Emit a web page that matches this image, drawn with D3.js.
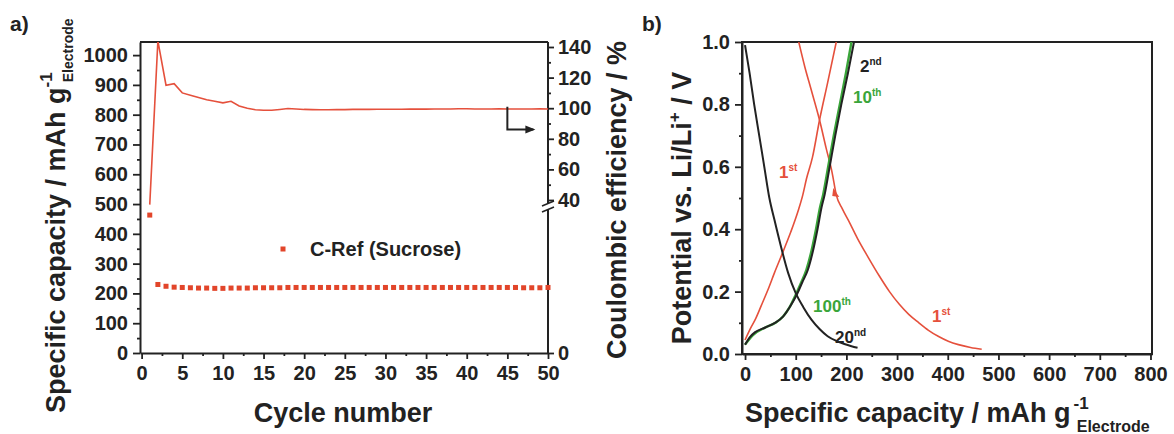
<!DOCTYPE html>
<html><head><meta charset="utf-8">
<script src="https://cdn.jsdelivr.net/npm/d3@7"></script>
<style>
body{margin:0;background:#fff;}
svg{display:block;}
text{font-family:"Liberation Sans",Arial,sans-serif;font-weight:bold;fill:#222;}
</style>
</head><body>
<svg id="c" width="1174" height="434"></svg>
<script>
// ---------- Panel a data ----------
const cycles = [1,2,3,4,5,6,7,8,9,10,11,12,13,14,15,16,17,18,19,20,21,22,23,24,25,26,27,28,29,30,31,32,33,34,35,36,37,38,39,40,41,42,43,44,45,46,47,48,49,50];
const capacity = [463,230,224,221,220,219,218,218,217,217,218,218,218,219,219,219,219,220,220,220,220,220,220,220,220,220,220,220,220,220,220,220,220,220,220,220,220,220,220,220,220,220,220,220,220,220,219,219,219,220];
const coulombicEff = [37,144,115,116,110,108.5,107,105.5,104.5,103.5,104.5,101.5,100,99,98.7,98.7,99.2,99.8,99.5,99.2,99.1,99.0,99.0,99.1,99.1,99.2,99.2,99.2,99.3,99.3,99.3,99.3,99.4,99.4,99.4,99.5,99.5,99.5,99.6,99.6,99.5,99.5,99.5,99.6,99.5,99.5,99.5,99.5,99.6,99.5];
const cycleTicks = [0,5,10,15,20,25,30,35,40,45,50];
const capTicks = [0,100,200,300,400,500,600,700,800,900,1000];
const ceTicks = [40,60,80,100,120,140];
const legendLabel = "C-Ref (Sucrose)";

// ---------- Panel b data: [capacity, potential] ----------
const discharge2 = [[0,0.99],[9,0.9],[18,0.8],[28,0.7],[38,0.6],[48,0.5],[58,0.43],[70,0.35],[85,0.26],[100,0.195],[115,0.15],[131,0.11],[147,0.08],[163,0.057],[180,0.042],[196,0.032],[210,0.025],[222,0.02]];
const charge2 = [[0,0.03],[10,0.055],[20,0.07],[40,0.085],[59,0.1],[75,0.12],[88,0.15],[102,0.19],[113,0.23],[124,0.27],[134,0.33],[143,0.4],[151,0.47],[157,0.51],[167,0.6],[178,0.7],[190,0.8],[203,0.9],[215,1.0]];
const charge10 = [[0,0.03],[15,0.06],[40,0.085],[60,0.1],[75,0.12],[88,0.15],[100,0.19],[111,0.23],[121,0.27],[131,0.33],[140,0.4],[148,0.47],[154,0.51],[164,0.6],[175,0.7],[187,0.8],[199,0.9],[210,1.0]];
const discharge1 = [[106,1.0],[118,0.92],[130,0.85],[147,0.75],[160,0.66],[172,0.58],[180,0.51],[192,0.465],[205,0.425],[222,0.37],[243,0.31],[265,0.25],[285,0.2],[304,0.16],[323,0.127],[343,0.1],[362,0.076],[382,0.056],[401,0.041],[421,0.03],[445,0.021],[467,0.015]];
const charge1 = [[0,0.045],[10,0.08],[20,0.11],[32,0.155],[45,0.205],[58,0.26],[73,0.32],[90,0.39],[105,0.46],[114,0.51],[121,0.56],[133,0.63],[147,0.75],[163,0.87],[180,1.0]];
const potTicks = [0,0.2,0.4,0.6,0.8,1.0];
const capBTicks = [0,100,200,300,400,500,600,700,800];

const RED = "#e5503c", MARK = "#e2452a", GREEN = "#3aa53a", BLACK = "#222";

const svg = d3.select("#c");
svg.append("rect").attr("width",1174).attr("height",434).attr("fill","#fff");

function styleAxis(g){
  g.selectAll(".domain").attr("stroke",BLACK).attr("stroke-width",2);
  g.selectAll(".tick line").attr("stroke",BLACK).attr("stroke-width",1.8);
  g.selectAll(".tick text").style("font-size","20px").style("font-weight","bold").attr("fill",BLACK);
}

// ================= Panel a =================
const xA = d3.scaleLinear().domain([-0.2,50]).range([140,548]);
const yA = d3.scaleLinear().domain([0,1044]).range([353,42]);
const yCE = d3.scaleLinear().domain([40,140]).range([200,47]);
const yCElow = d3.scaleLinear().domain([0,40]).range([353,207]);

svg.append("defs").append("clipPath").attr("id","clipA")
  .append("rect").attr("x",140).attr("y",42).attr("width",408).attr("height",311);

svg.append("line").attr("x1",140).attr("x2",548).attr("y1",42).attr("y2",42).attr("stroke",BLACK).attr("stroke-width",2);

svg.append("g").attr("transform","translate(140,0)")
  .call(d3.axisLeft(yA).tickValues(d3.range(50,1044,100)).tickSize(3).tickFormat(""))
  .call(g=>g.select(".domain").remove()).call(styleAxis);
svg.append("g").attr("transform","translate(140,0)")
  .call(d3.axisLeft(yA).tickValues(capTicks).tickSize(7).tickPadding(5).tickSizeOuter(0).tickFormat(d3.format("d")))
  .call(styleAxis);
svg.append("g").attr("transform","translate(0,353)")
  .call(d3.axisBottom(xA).tickValues(d3.range(2.5,50,5)).tickSize(3).tickFormat(""))
  .call(g=>g.select(".domain").remove()).call(styleAxis);
svg.append("g").attr("transform","translate(0,353)")
  .call(d3.axisBottom(xA).tickValues(cycleTicks).tickSize(6).tickPadding(7).tickSizeOuter(0))
  .call(styleAxis);
const rA = svg.append("g").attr("transform","translate(548,0)");
rA.call(d3.axisRight(yCE).tickValues(ceTicks).tickSize(6).tickPadding(4))
  .call(g=>g.select(".domain").remove()).call(styleAxis);
rA.append("g").call(d3.axisRight(yCE).tickValues([50,70,90,110,130]).tickSize(3).tickFormat(""))
  .call(g=>g.select(".domain").remove()).call(styleAxis);
rA.append("g").call(d3.axisRight(yCElow).tickValues([0]).tickSize(6).tickPadding(4))
  .call(g=>g.select(".domain").remove()).call(styleAxis);
rA.append("line").attr("x1",0).attr("x2",0).attr("y1",42).attr("y2",204).attr("stroke",BLACK).attr("stroke-width",2);
rA.append("line").attr("x1",0).attr("x2",0).attr("y1",210).attr("y2",354).attr("stroke",BLACK).attr("stroke-width",2);
rA.append("line").attr("x1",-6).attr("x2",6).attr("y1",206).attr("y2",201).attr("stroke",BLACK).attr("stroke-width",1.5);
rA.append("line").attr("x1",-6).attr("x2",6).attr("y1",212).attr("y2",207).attr("stroke",BLACK).attr("stroke-width",1.5);

const ceData = cycles.map((c,i)=>[c,coulombicEff[i]]);
svg.append("path").datum(ceData).attr("clip-path","url(#clipA)")
  .attr("fill","none").attr("stroke",RED).attr("stroke-width",1.6)
  .attr("d",d3.line().x(d=>xA(d[0])).y(d=>yCE(d[1])));

svg.append("g").selectAll("rect").data(cycles.map((c,i)=>[c,capacity[i]])).join("rect")
  .attr("x",d=>xA(d[0])-2.5).attr("y",d=>yA(d[1])-2.5).attr("width",5).attr("height",5)
  .attr("fill",MARK);

svg.append("rect").attr("x",280.5).attr("y",246.5).attr("width",5).attr("height",5).attr("fill",MARK);
svg.append("text").attr("x",310).attr("y",256).style("font-size","20px").text(legendLabel);

const ax0 = xA(45);
svg.append("path").attr("d",`M${ax0},${yCE(101)} V${yCE(86)} H${xA(48.2)}`)
  .attr("fill","none").attr("stroke",BLACK).attr("stroke-width",2);
svg.append("path").attr("d",`M${xA(48.2)-8},${yCE(86)-4} L${xA(48.2)+2},${yCE(86)} L${xA(48.2)-8},${yCE(86)+4} Z`).attr("fill",BLACK);

svg.append("text").attr("x",343).attr("y",422).attr("text-anchor","middle").style("font-size","27px").text("Cycle number");
const tA = svg.append("text").attr("transform","translate(65,413) rotate(-90)").style("font-size","27px");
tA.append("tspan").text("Specific capacity / mAh g");
tA.append("tspan").attr("dy",-13).style("font-size","17px").text("-1");
tA.append("tspan").attr("dx",-10).attr("dy",21).style("font-size","14px").text("Electrode");
svg.append("text").attr("transform","translate(626,200) rotate(-90)").attr("text-anchor","middle")
  .style("font-size","27px").text("Coulombic efficiency / %");
svg.append("text").attr("x",10).attr("y",31).style("font-size","21px").text("a)");

// ================= Panel b =================
const xB = d3.scaleLinear().domain([-6,803]).range([742,1152]);
const yB = d3.scaleLinear().domain([0,1]).range([354,42]);

svg.append("defs").append("clipPath").attr("id","clipB")
  .append("rect").attr("x",742).attr("y",42).attr("width",410).attr("height",312);

svg.append("g").attr("transform","translate(742,0)")
  .call(d3.axisLeft(yB).tickValues([0.1,0.3,0.5,0.7,0.9]).tickSize(3).tickFormat(""))
  .call(g=>g.select(".domain").remove()).call(styleAxis);
svg.append("g").attr("transform","translate(742,0)")
  .call(d3.axisLeft(yB).tickValues(potTicks).tickSize(7).tickPadding(5).tickSizeOuter(0).tickFormat(d3.format(".1f")))
  .call(styleAxis);
svg.append("g").attr("transform","translate(0,354)")
  .call(d3.axisBottom(xB).tickValues(d3.range(50,800,100)).tickSize(3).tickFormat(""))
  .call(g=>g.select(".domain").remove()).call(styleAxis);
svg.append("g").attr("transform","translate(0,354)")
  .call(d3.axisBottom(xB).tickValues(capBTicks).tickSize(6).tickPadding(7).tickSizeOuter(0))
  .call(styleAxis);
svg.append("rect").attr("x",742).attr("y",42).attr("width",410).attr("height",312)
  .attr("fill","none").attr("stroke",BLACK).attr("stroke-width",2);

const lineB = d3.line().curve(d3.curveMonotoneX).x(d=>xB(d[0])).y(d=>yB(d[1]));
const gB = svg.append("g").attr("clip-path","url(#clipB)");
gB.append("path").datum(discharge1).attr("d",lineB).attr("fill","none").attr("stroke",RED).attr("stroke-width",1.6);
gB.append("path").datum(charge1).attr("d",lineB).attr("fill","none").attr("stroke",RED).attr("stroke-width",1.6);
gB.append("path").datum(charge10).attr("d",lineB).attr("fill","none").attr("stroke",GREEN).attr("stroke-width",2.4);
gB.append("path").datum(charge2).attr("d",lineB).attr("fill","none").attr("stroke",BLACK).attr("stroke-width",2);
gB.append("path").datum(discharge2).attr("d",lineB).attr("fill","none").attr("stroke",BLACK).attr("stroke-width",2);

const arX = xB(180), arY = yB(0.51);
svg.append("path").attr("d",`M${arX-3},${arY-7} L${arX+3},${arY+2} L${arX-4},${arY+1} Z`).attr("fill",RED);

function lab(x,y,main,sup,color){
  const t = svg.append("text").attr("x",x).attr("y",y).style("font-size","17px").attr("fill",color);
  t.append("tspan").text(main).attr("fill",color);
  t.append("tspan").attr("dy",-7).style("font-size","10px").attr("fill",color).text(sup);
}
lab(860,72,"2","nd",BLACK);
lab(853,103,"10","th",GREEN);
lab(779,178,"1","st",RED);
lab(813,312,"100","th",GREEN);
lab(835,343,"20","nd",BLACK);
lab(932,322,"1","st",RED);

const tBx = svg.append("text").attr("x",745).attr("y",422).style("font-size","27px");
tBx.append("tspan").text("Specific capacity / mAh g");
tBx.append("tspan").attr("dx",3).attr("dy",-13).style("font-size","17px").text("-1");
tBx.append("tspan").attr("dx",-12).attr("dy",23).style("font-size","16px").text("Electrode");
svg.append("text").attr("transform","translate(691,208) rotate(-90)").attr("text-anchor","middle")
  .style("font-size","27px")
  .call(t=>{t.append("tspan").text("Potential vs. Li/Li");
            t.append("tspan").attr("dy",-11).style("font-size","17px").text("+");
            t.append("tspan").attr("dy",11).text(" / V");});
svg.append("text").attr("x",642).attr("y",31).style("font-size","21px").text("b)");
</script>
</body></html>
